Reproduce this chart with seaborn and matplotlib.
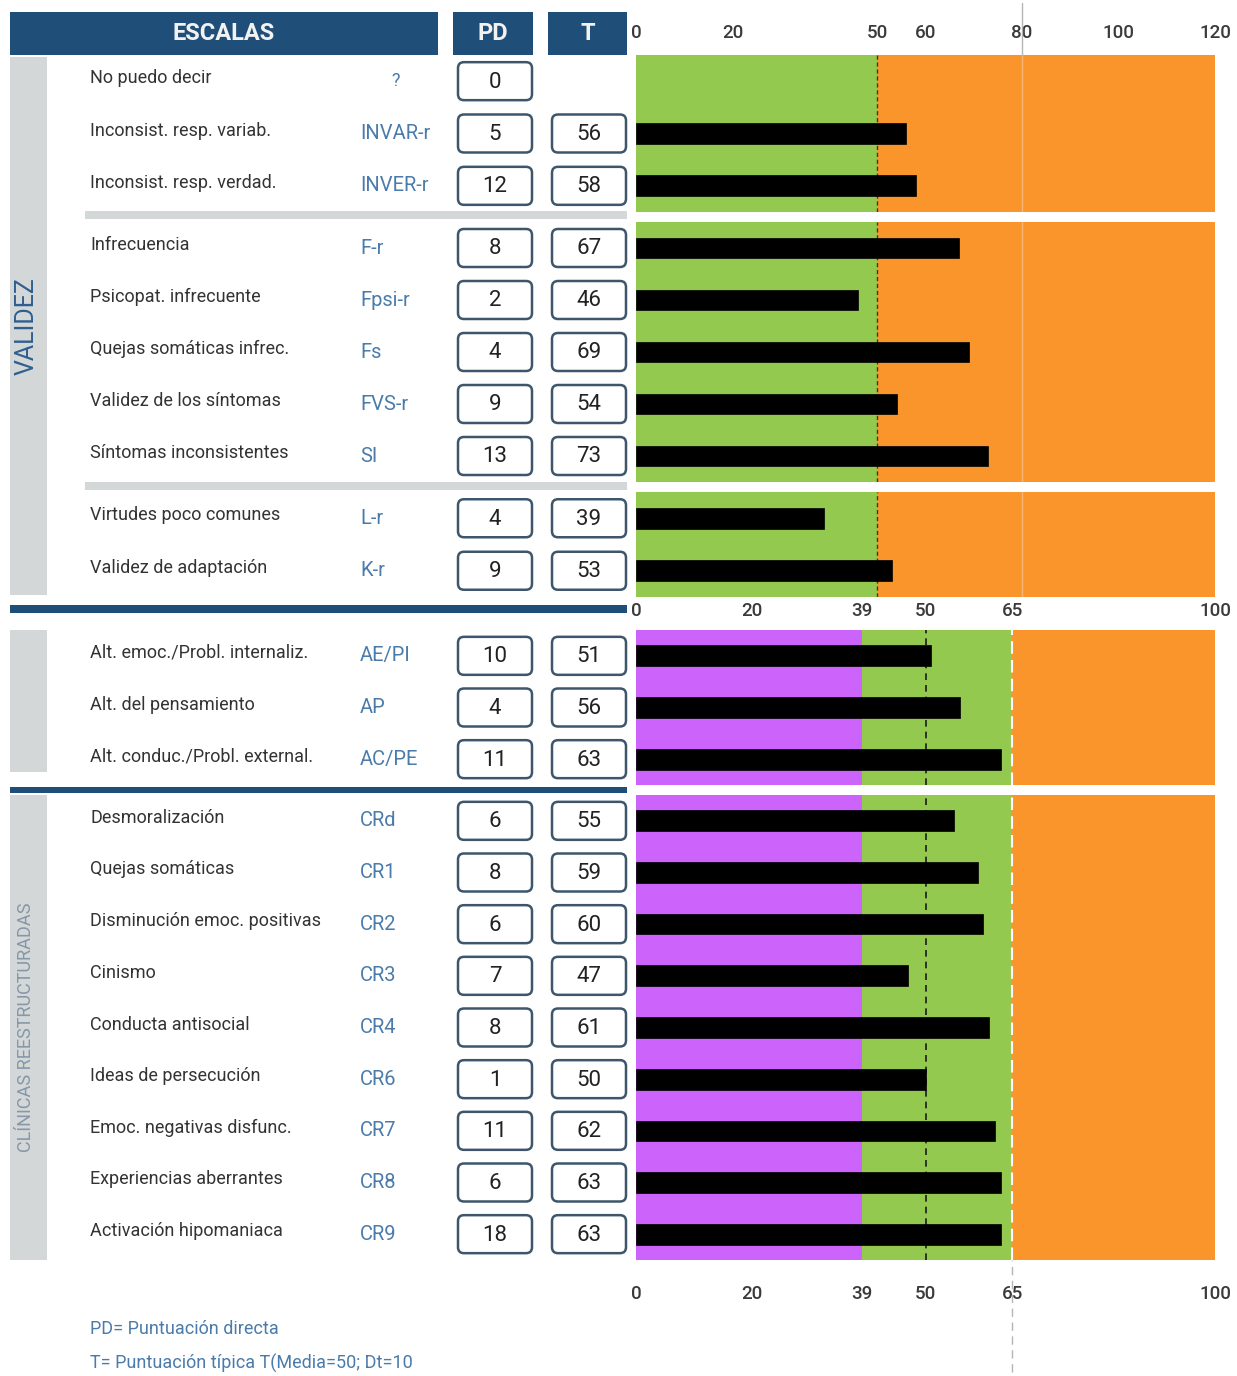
import pandas as pd
import matplotlib
matplotlib.use("Agg")
import matplotlib.pyplot as plt
from matplotlib.patches import Rectangle, FancyBboxPatch
import seaborn as sns

# --- datos: escalas de validez ---
val_names = ["No puedo decir", "Inconsist. resp. variab.", "Inconsist. resp. verdad.",
             "Infrecuencia", "Psicopat. infrecuente", "Quejas somáticas infrec.",
             "Validez de los síntomas", "Síntomas inconsistentes",
             "Virtudes poco comunes", "Validez de adaptación"]
val_codes = ["?", "INVAR-r", "INVER-r", "F-r", "Fpsi-r", "Fs", "FVS-r", "SI", "L-r", "K-r"]
val_pd = [0, 5, 12, 8, 2, 4, 9, 13, 4, 9]
val_t = [None, 56, 58, 67, 46, 69, 54, 73, 39, 53]
val_groups = [3, 5, 2]
val_ticks = [0, 20, 50, 60, 80, 100, 120]
val_cut = 50

# --- datos: escalas clínicas ---
clin_names = ["Alt. emoc./Probl. internaliz.", "Alt. del pensamiento",
              "Alt. conduc./Probl. external.", "Desmoralización", "Quejas somáticas",
              "Disminución emoc. positivas", "Cinismo", "Conducta antisocial",
              "Ideas de persecución", "Emoc. negativas disfunc.",
              "Experiencias aberrantes", "Activación hipomaniaca"]
clin_codes = ["AE/PI", "AP", "AC/PE", "CRd", "CR1", "CR2", "CR3", "CR4", "CR6", "CR7", "CR8", "CR9"]
clin_pd = [10, 4, 11, 6, 8, 6, 7, 8, 1, 11, 6, 18]
clin_t = [51, 56, 63, 55, 59, 60, 47, 61, 50, 62, 63, 63]
clin_groups = [3, 9]
clin_ticks = [0, 20, 39, 50, 65, 100]
clin_cuts = [39, 65]

# colores
AZUL = "#1f4e79"
GRIS = "#d4d7d7"
VERDE = "#93c94f"
NARANJA = "#fa952c"
MORADO = "#cc63fb"
COD = "#4a7bab"
TXT = "#333333"

sns.set_theme(style="white")
plt.rcParams["font.family"] = ["Roboto", "DejaVu Sans"]

W, H = 1237, 1376
fig = plt.figure(figsize=(W / 100, H / 100), dpi=100)


def box(x0, y0, x1, y1):
    return [x0 / W, 1 - y1 / H, (x1 - x0) / W, (y1 - y0) / H]


bg = fig.add_axes([0, 0, 1, 1])
bg.set_xlim(0, W)
bg.set_ylim(H, 0)
bg.axis("off")

# cabecera
for x0, w, lab in [(10, 428, "ESCALAS"), (453, 80, "PD"), (548, 79, "T")]:
    bg.add_patch(Rectangle((x0, 12), w, 43, color=AZUL, lw=0))
    bg.text(x0 + w / 2, 34, lab, color="#f2f2f2", fontsize=17, fontweight="bold",
            ha="center", va="center")

# bandas laterales
bg.add_patch(Rectangle((10, 57), 37, 538, color=GRIS, lw=0))
bg.add_patch(Rectangle((10, 630), 37, 142, color=GRIS, lw=0))
bg.add_patch(Rectangle((10, 795), 37, 465, color=GRIS, lw=0))
bg.text(27, 326, "VALIDEZ", rotation=90, color="#2f5f8f", fontsize=18,
        ha="center", va="center")
bg.text(26, 1027, "CLÍNICAS REESTRUCTURADAS", rotation=90, color="#8597a8",
        fontsize=13, ha="center", va="center")

# separadores
bg.add_patch(Rectangle((85, 211), 542, 8, color=GRIS, lw=0))
bg.add_patch(Rectangle((85, 482), 542, 8, color=GRIS, lw=0))
bg.add_patch(Rectangle((10, 605), 617, 8, color=AZUL, lw=0))
bg.add_patch(Rectangle((10, 787), 617, 6, color=AZUL, lw=0))

bg.text(90, 1329, "PD= Puntuación directa", color=COD, fontsize=13, va="center")
bg.text(90, 1363, "T= Puntuación típica T(Media=50; Dt=10", color=COD, fontsize=13,
        va="center")

BX0, BX1 = 636, 1215


def filas(y0, y1, names, codes, pds, ts):
    n = len(names)
    step = (y1 - y0) / n
    for i in range(n):
        yc = y0 + (i + 0.5) * step
        bg.text(90, yc - 3, names[i], color=TXT, fontsize=13, va="center", ha="left")
        if codes[i] == "?":
            bg.text(396, yc, codes[i], color=COD, fontsize=13, va="center", ha="center")
        else:
            bg.text(360, yc, codes[i], color=COD, fontsize=14.5, va="center", ha="left")
        cells = [(458, pds[i]), (552, ts[i])]
        for cx, v in cells:
            if v is None:
                continue
            bg.add_patch(FancyBboxPatch((cx, yc - 19), 74, 38,
                                        boxstyle="round,pad=0,rounding_size=6",
                                        fc="white", ec="#3d566b", lw=1.8))
            bg.text(cx + 37, yc + 1, str(v), color="#222222", fontsize=16,
                    ha="center", va="center")


def barras(y0, y1, codes, ts, xmax):
    ax = fig.add_axes(box(BX0, y0, BX1, y1))
    ax.set_facecolor("none")
    df = pd.DataFrame({"code": codes, "t": ts}).dropna()
    sns.barplot(data=df, x="t", y="code", order=codes, color="black", saturation=1,
                width=0.4, orient="h", edgecolor="black", linewidth=0.5, ax=ax)
    ax.set_xlim(0, xmax)
    ax.set_ylim(len(codes) - 0.5, -0.5)
    ax.set_xlabel("")
    ax.set_ylabel("")
    ax.set_yticks([])
    ax.set_xticks([])
    for sp in ax.spines.values():
        sp.set_visible(False)
    return ax


def ticks(ax, vals, top=True, pad=14):
    ax.set_xticks(vals)
    ax.set_xticklabels([str(v) for v in vals])
    if top:
        ax.xaxis.set_ticks_position("top")
    ax.tick_params(axis="x", length=0, labelsize=13.5, labelcolor="#3a3a3a", pad=pad)
    for lab in ax.get_xticklabels():
        lab.set_fontweight("medium")


# bloques de validez
val_spans = [(55, 212), (222, 482), (492, 597)]
start = 0
for k, (n, (y0, y1)) in enumerate(zip(val_groups, val_spans)):
    sl = slice(start, start + n)
    filas(y0, y1, val_names[sl], val_codes[sl], val_pd[sl], val_t[sl])
    ax = barras(y0, y1, val_codes[sl], val_t[sl], 120)
    ax.axvspan(0, val_cut, color=VERDE, lw=0, zorder=0)
    ax.axvspan(val_cut, 120, color=NARANJA, lw=0, zorder=0)
    ax.axvline(val_cut, color="#5a2d12", lw=1, ls=(0, (3, 2)), zorder=0.5)
    ax.axvline(80, color="#f7b676", lw=1, zorder=0.5)
    if k == 0:
        ticks(ax, val_ticks, top=True, pad=9)
        ax.axvline(80, ymin=1.0, ymax=1.33, color="#b5b5b5", lw=1, clip_on=False)
    start += n

# bloques clínicos
clin_spans = [(630, 785), (795, 1260)]
start = 0
for k, (n, (y0, y1)) in enumerate(zip(clin_groups, clin_spans)):
    sl = slice(start, start + n)
    filas(y0, y1, clin_names[sl], clin_codes[sl], clin_pd[sl], clin_t[sl])
    ax = barras(y0, y1, clin_codes[sl], clin_t[sl], 100)
    ax.axvspan(0, clin_cuts[0], color=MORADO, lw=0, zorder=0)
    ax.axvspan(clin_cuts[0], clin_cuts[1], color=VERDE, lw=0, zorder=0)
    ax.axvspan(clin_cuts[1], 100, color=NARANJA, lw=0, zorder=0)
    ax.axvline(50, color="#1a1a1a", lw=1.2, ls=(0, (4, 3)), zorder=0.5)
    ax.axvline(clin_cuts[1], color="white", lw=1.5, ls=(0, (6, 3)), zorder=0.5)
    if k == 0:
        ticks(ax, clin_ticks, top=True, pad=7)
    else:
        ticks(ax, clin_ticks, top=False, pad=18)
        ax.axvline(clin_cuts[1], ymin=-0.24, ymax=0, color="#b5b5b5", lw=1,
                   ls=(0, (6, 4)), clip_on=False)
    start += n

fig.savefig("out.png", dpi=100)
